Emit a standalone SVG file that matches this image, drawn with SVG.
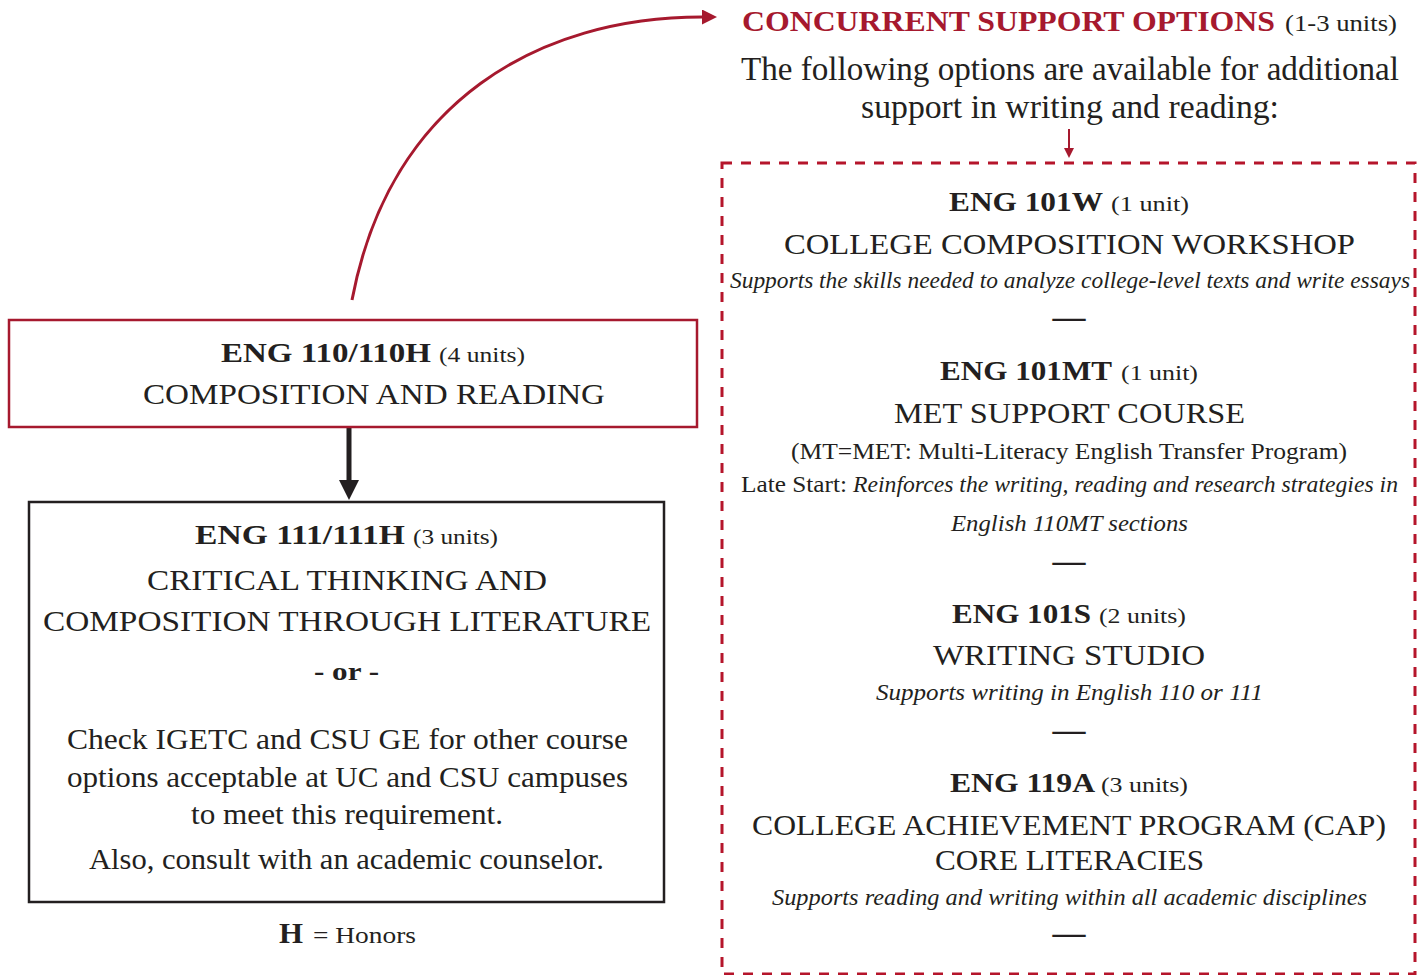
<svg xmlns="http://www.w3.org/2000/svg" width="1426" height="975" viewBox="0 0 1426 975">
<defs>
<style>
text{font-family:"Liberation Serif","Times New Roman",serif;fill:#231f20}
.b{font-weight:bold}
.i{font-style:italic}
.red{fill:#a6192e}
.c{text-anchor:middle}
.dash{font-size:33px;font-weight:bold}
</style>
<marker id="ah-red" viewBox="0 0 10 10" refX="0" refY="5" markerWidth="5" markerHeight="5" orient="auto" markerUnits="strokeWidth"><path d="M0,0 L10,5 L0,10 z" fill="#a6192e"/></marker>
<marker id="ah-small" viewBox="0 0 10 10" refX="0" refY="5" markerWidth="5" markerHeight="5" orient="auto" markerUnits="strokeWidth"><path d="M0,0 L10,5 L0,10 z" fill="#a6192e"/></marker>
<marker id="ah-black" viewBox="0 0 10 10" refX="0" refY="5" markerWidth="4" markerHeight="4" orient="auto" markerUnits="strokeWidth"><path d="M0,0 L10,5 L0,10 z" fill="#231f20"/></marker>
</defs>
<rect width="1426" height="975" fill="#ffffff"/>

<g id="connectors">
<path d="M352,300 C390,100 540,17 702,17" fill="none" stroke="#a6192e" stroke-width="3" marker-end="url(#ah-red)"/>
<line x1="1069" y1="129" x2="1069" y2="148" stroke="#a6192e" stroke-width="2" marker-end="url(#ah-small)"/>
<line x1="349" y1="428" x2="349" y2="480" stroke="#231f20" stroke-width="5" marker-end="url(#ah-black)"/>
</g>

<g id="eng110">
<rect x="9" y="320" width="688" height="107" fill="none" stroke="#a6192e" stroke-width="2.5"/>
<text x="221" y="362" class="b" font-size="28" textLength="210" lengthAdjust="spacingAndGlyphs">ENG 110/110H</text>
<text x="439" y="362" font-size="22" textLength="86" lengthAdjust="spacingAndGlyphs">(4 units)</text>
<text x="143" y="404" font-size="30" textLength="462" lengthAdjust="spacingAndGlyphs">COMPOSITION AND READING</text>
</g>

<g id="eng111">
<rect x="29" y="502" width="635" height="400" fill="none" stroke="#231f20" stroke-width="2.5"/>
<text x="195" y="544" class="b" font-size="28" textLength="210" lengthAdjust="spacingAndGlyphs">ENG 111/111H</text>
<text x="413" y="544" font-size="22" textLength="85" lengthAdjust="spacingAndGlyphs">(3 units)</text>
<text x="147" y="590" font-size="30" textLength="400" lengthAdjust="spacingAndGlyphs">CRITICAL THINKING AND</text>
<text x="43" y="631" font-size="30" textLength="608" lengthAdjust="spacingAndGlyphs">COMPOSITION THROUGH LITERATURE</text>
<text x="314" y="680" class="b" font-size="26" textLength="65" lengthAdjust="spacingAndGlyphs">- or -</text>
<text x="67" y="749" font-size="30" textLength="561" lengthAdjust="spacingAndGlyphs">Check IGETC and CSU GE for other course</text>
<text x="67" y="787" font-size="30" textLength="561" lengthAdjust="spacingAndGlyphs">options acceptable at UC and CSU campuses</text>
<text x="191" y="824" font-size="30" textLength="312" lengthAdjust="spacingAndGlyphs">to meet this requirement.</text>
<text x="89" y="869" font-size="30" textLength="515" lengthAdjust="spacingAndGlyphs">Also, consult with an academic counselor.</text>
</g>

<g id="legend">
<text x="279" y="943" class="b" font-size="30" textLength="24" lengthAdjust="spacingAndGlyphs">H</text>
<text x="313" y="943" font-size="24" textLength="103" lengthAdjust="spacingAndGlyphs">= Honors</text>
</g>

<g id="header">
<text x="742" y="31" class="b red" font-size="30" textLength="533" lengthAdjust="spacingAndGlyphs">CONCURRENT SUPPORT OPTIONS</text>
<text x="1285" y="31" font-size="23" textLength="112" lengthAdjust="spacingAndGlyphs">(1-3 units)</text>
<text x="741" y="80" font-size="33" textLength="658" lengthAdjust="spacingAndGlyphs">The following options are available for additional</text>
<text x="861" y="118" font-size="33" textLength="418" lengthAdjust="spacingAndGlyphs">support in writing and reading:</text>
</g>

<g id="options">
<rect x="722" y="163" width="693" height="811" fill="none" stroke="#b5152b" stroke-width="3" stroke-dasharray="10,9"/>

<g id="eng101w">
<text x="949" y="211" class="b" font-size="28" textLength="154" lengthAdjust="spacingAndGlyphs">ENG 101W</text>
<text x="1111" y="211" font-size="22" textLength="78" lengthAdjust="spacingAndGlyphs">(1 unit)</text>
<text x="784" y="254" font-size="30" textLength="571" lengthAdjust="spacingAndGlyphs">COLLEGE COMPOSITION WORKSHOP</text>
<text x="730" y="288" class="i" font-size="24" textLength="680" lengthAdjust="spacingAndGlyphs">Supports the skills needed to analyze college-level texts and write essays</text>
<text x="1069" y="328" class="c dash">—</text>
</g>

<g id="eng101mt">
<text x="940" y="380" class="b" font-size="28" textLength="172" lengthAdjust="spacingAndGlyphs">ENG 101MT</text>
<text x="1121" y="380" font-size="22" textLength="77" lengthAdjust="spacingAndGlyphs">(1 unit)</text>
<text x="894" y="423" font-size="30" textLength="351" lengthAdjust="spacingAndGlyphs">MET SUPPORT COURSE</text>
<text x="791" y="459" font-size="24" textLength="556" lengthAdjust="spacingAndGlyphs">(MT=MET: Multi-Literacy English Transfer Program)</text>
<text x="741" y="492" font-size="24" textLength="106" lengthAdjust="spacingAndGlyphs">Late Start:</text>
<text x="853" y="492" class="i" font-size="24" textLength="545" lengthAdjust="spacingAndGlyphs">Reinforces the writing, reading and research strategies in</text>
<text x="951" y="531" class="i" font-size="24" textLength="237" lengthAdjust="spacingAndGlyphs">English 110MT sections</text>
<text x="1069" y="572" class="c dash">—</text>
</g>

<g id="eng101s">
<text x="952" y="623" class="b" font-size="28" textLength="139" lengthAdjust="spacingAndGlyphs">ENG 101S</text>
<text x="1099" y="623" font-size="22" textLength="87" lengthAdjust="spacingAndGlyphs">(2 units)</text>
<text x="933" y="665" font-size="30" textLength="272" lengthAdjust="spacingAndGlyphs">WRITING STUDIO</text>
<text x="876" y="700" class="i" font-size="24" textLength="387" lengthAdjust="spacingAndGlyphs">Supports writing in English 110 or 111</text>
<text x="1069" y="741" class="c dash">—</text>
</g>

<g id="eng119a">
<text x="950" y="792" class="b" font-size="28" textLength="145" lengthAdjust="spacingAndGlyphs">ENG 119A</text>
<text x="1101" y="792" font-size="22" textLength="87" lengthAdjust="spacingAndGlyphs">(3 units)</text>
<text x="752" y="835" font-size="30" textLength="634" lengthAdjust="spacingAndGlyphs">COLLEGE ACHIEVEMENT PROGRAM (CAP)</text>
<text x="935" y="870" font-size="30" textLength="269" lengthAdjust="spacingAndGlyphs">CORE LITERACIES</text>
<text x="772" y="905" class="i" font-size="24" textLength="595" lengthAdjust="spacingAndGlyphs">Supports reading and writing within all academic disciplines</text>
<text x="1069" y="944" class="c dash">—</text>
</g>
</g>
</svg>
